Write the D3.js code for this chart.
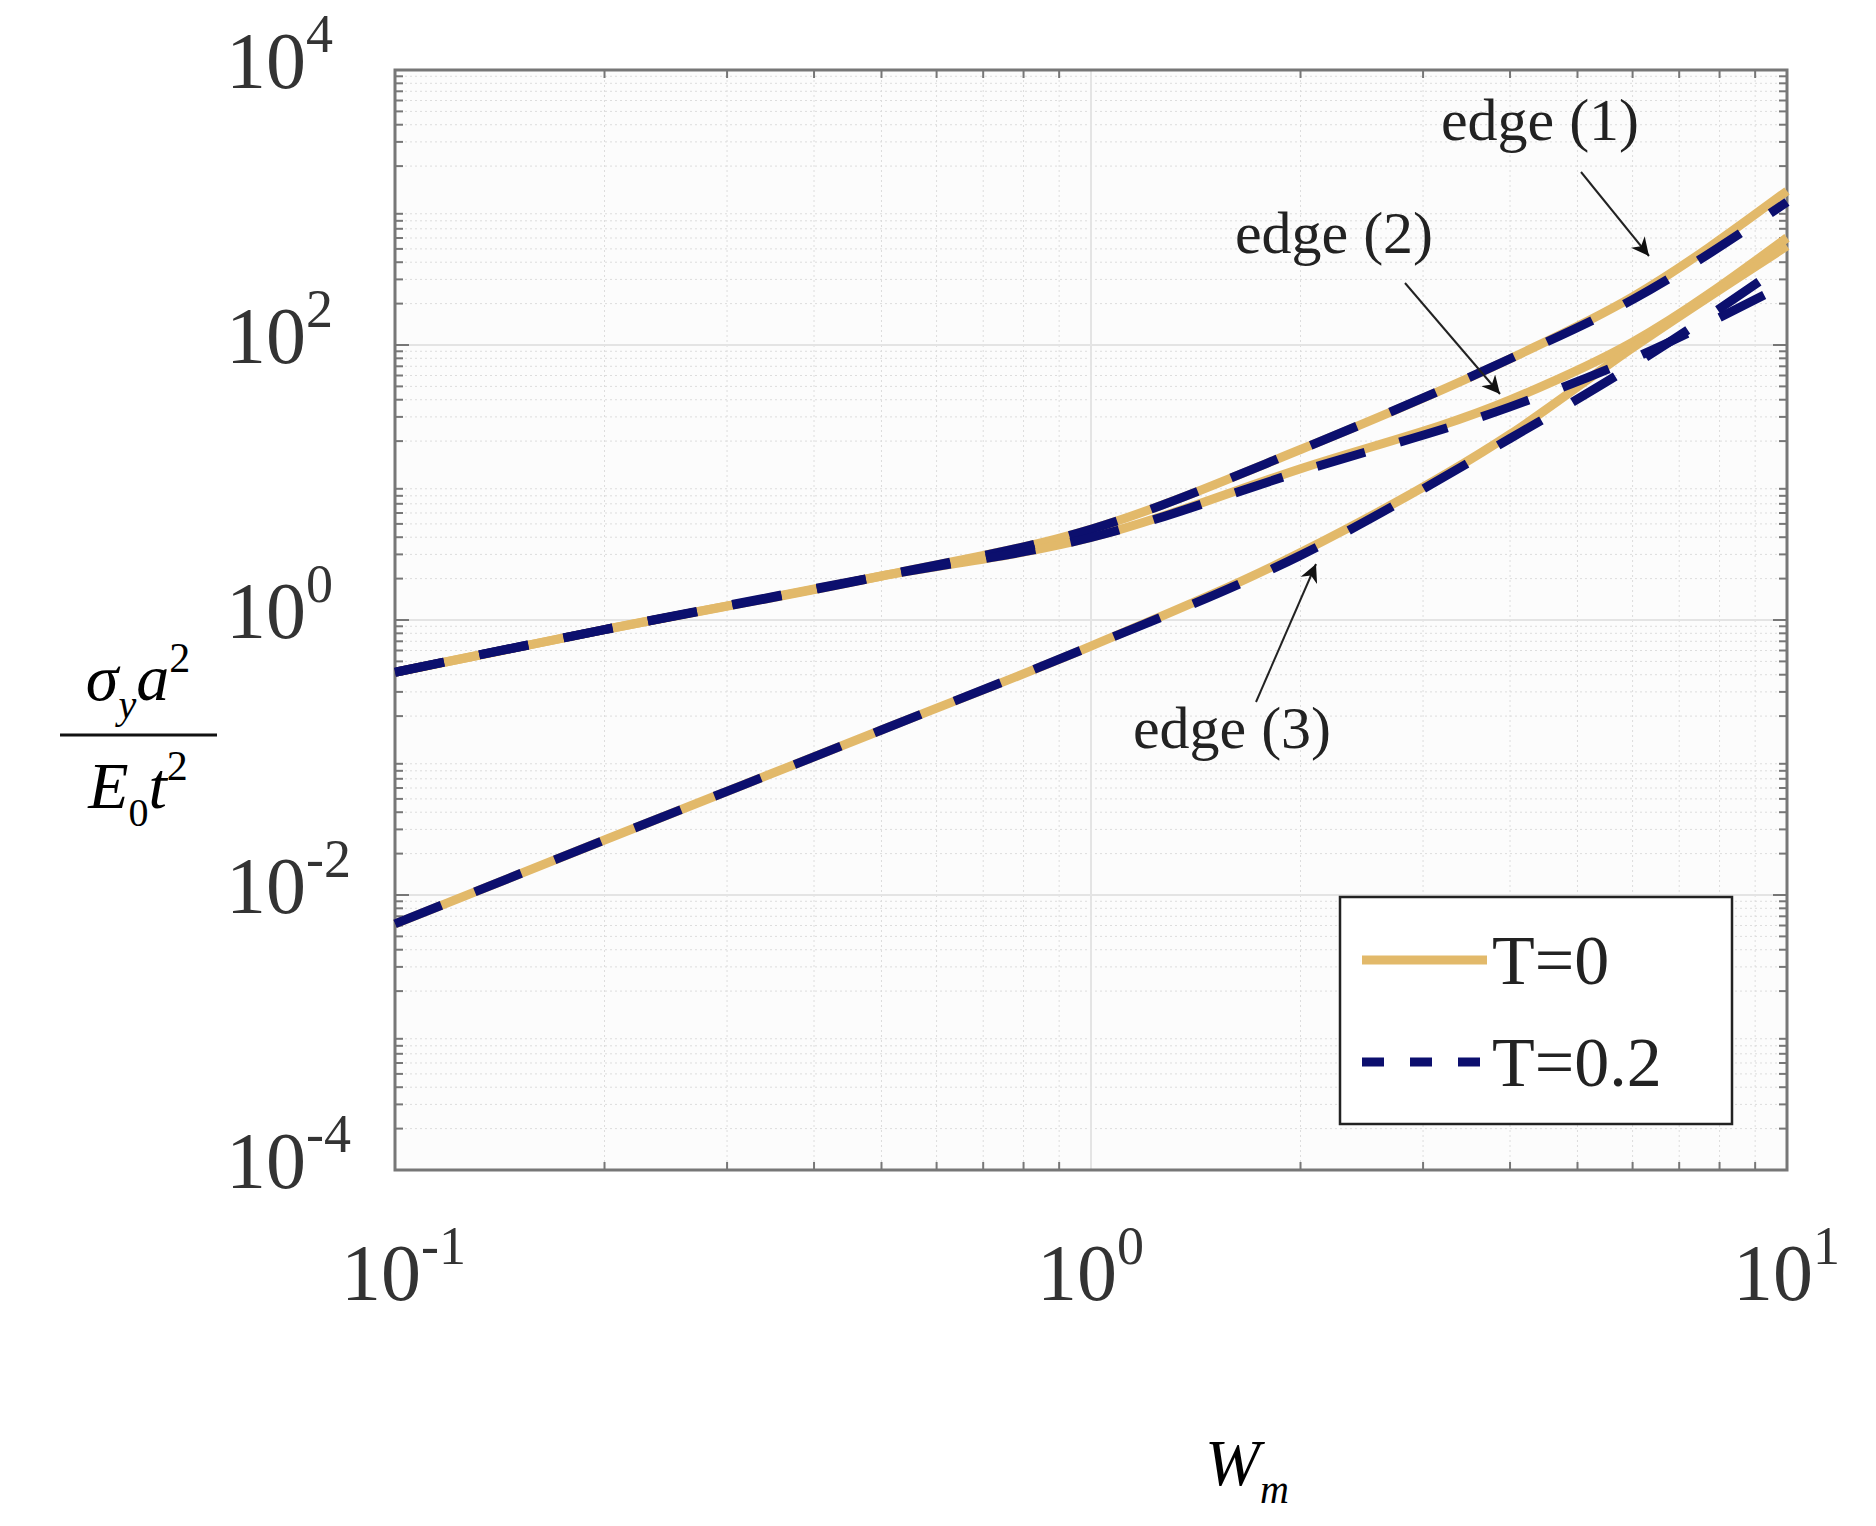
<!DOCTYPE html>
<html><head><meta charset="utf-8">
<script src="https://cdn.jsdelivr.net/npm/d3@7"></script>
<style>body{margin:0;background:#fff}text{font-family:"Liberation Serif",serif}</style>
</head><body><svg id="c" width="1876" height="1526"></svg>
<script>
// x values (W_m) and log10 of y values
var xs = [0.1, 0.2, 0.5, 1, 2, 4, 6, 10];
var edge1T0 = [-0.38, -0.07, 0.32, 0.66, 1.24, 1.9, 2.35, 3.12];
var edge2T0 = [-0.38, -0.07, 0.32, 0.6, 1.1, 1.6, 2.02, 2.78];
var edge3T0 = [-2.21, -1.6, -0.8, -0.19, 0.49, 1.35, 1.98, 2.72];
var edge1T2 = [-0.38, -0.07, 0.32, 0.66, 1.24, 1.9, 2.33, 3.04];
var edge2T2 = [-0.38, -0.07, 0.32, 0.6, 1.08, 1.55, 1.9, 2.45];
var edge3T2 = [-2.21, -1.6, -0.8, -0.19, 0.47, 1.32, 1.85, 2.6];
var yTicks = [-4, -2, 0, 2, 4];
var xTicks = [-1, 0, 1];

var svg = d3.select('#c');
var L = 395, R = 1787, T = 70, B = 1170;
var x = d3.scaleLog().domain([0.1, 10]).range([L, R]);
var y = d3.scaleLog().domain([1e-4, 1e4]).range([B, T]);

svg.append('rect').attr('x', L).attr('y', T).attr('width', R - L).attr('height', B - T).attr('fill', '#fcfcfc');

// minor grid
var minorX = [], minorY = [];
for (var e = -1; e < 1; e++) for (var m = 2; m < 10; m++) minorX.push(m * Math.pow(10, e));
for (var e2 = -4; e2 < 4; e2++) for (var m2 = 2; m2 < 10; m2++) minorY.push(m2 * Math.pow(10, e2));
var g = svg.append('g');
g.selectAll('.mx').data(minorX).enter().append('line')
  .attr('x1', x).attr('x2', x).attr('y1', T).attr('y2', B)
  .attr('stroke', '#ddd').attr('stroke-dasharray', '2,3');
g.selectAll('.my').data(minorY).enter().append('line')
  .attr('y1', y).attr('y2', y).attr('x1', L).attr('x2', R)
  .attr('stroke', '#ddd').attr('stroke-dasharray', '2,3');
g.selectAll('.Mx').data(xTicks).enter().append('line')
  .attr('x1', function (d) { return x(Math.pow(10, d)); }).attr('x2', function (d) { return x(Math.pow(10, d)); })
  .attr('y1', T).attr('y2', B).attr('stroke', '#e4e4e4').attr('stroke-width', 2);
g.selectAll('.My').data(yTicks).enter().append('line')
  .attr('y1', function (d) { return y(Math.pow(10, d)); }).attr('y2', function (d) { return y(Math.pow(10, d)); })
  .attr('x1', L).attr('x2', R).attr('stroke', '#e4e4e4').attr('stroke-width', 2);

// ticks inside
minorY.concat(yTicks.map(function (d) { return Math.pow(10, d); })).forEach(function (v) {
  var len = minorY.indexOf(v) < 0 ? 14 : 8;
  svg.append('line').attr('x1', L).attr('x2', L + len).attr('y1', y(v)).attr('y2', y(v)).attr('stroke', '#777').attr('stroke-width', 2);
  svg.append('line').attr('x1', R).attr('x2', R - len).attr('y1', y(v)).attr('y2', y(v)).attr('stroke', '#777').attr('stroke-width', 2);
});
minorX.forEach(function (v) {
  svg.append('line').attr('x1', x(v)).attr('x2', x(v)).attr('y1', B).attr('y2', B - 8).attr('stroke', '#777').attr('stroke-width', 2);
  svg.append('line').attr('x1', x(v)).attr('x2', x(v)).attr('y1', T).attr('y2', T + 8).attr('stroke', '#777').attr('stroke-width', 2);
});
svg.append('rect').attr('x', L).attr('y', T).attr('width', R - L).attr('height', B - T)
  .attr('fill', 'none').attr('stroke', '#777').attr('stroke-width', 3);

// tick labels
function pow(sel, base, ex) {
  sel.append('tspan').text(base);
  sel.append('tspan').attr('dy', -36).attr('font-size', 54).text(ex);
}
yTicks.forEach(function (d) {
  var t = svg.append('text').attr('x', 226).attr('y', y(Math.pow(10, d)) + 18).attr('font-size', 80).attr('fill', '#333');
  pow(t, '10', d);
});
xTicks.forEach(function (d) {
  var t = svg.append('text').attr('x', x(Math.pow(10, d)) - 54).attr('y', 1300).attr('font-size', 80).attr('fill', '#333');
  pow(t, '10', d);
});

// curves
var line = d3.line().x(function (d) { return x(d[0]); }).y(function (d) { return y(Math.pow(10, d[1])); }).curve(d3.curveMonotoneX);
function pts(arr) { return xs.map(function (v, i) { return [v, arr[i]]; }); }
[edge1T0, edge2T0, edge3T0].forEach(function (s) {
  svg.append('path').attr('d', line(pts(s))).attr('fill', 'none').attr('stroke', '#e2b96a').attr('stroke-width', 9);
});
[edge1T2, edge2T2, edge3T2].forEach(function (s) {
  svg.append('path').attr('d', line(pts(s))).attr('fill', 'none').attr('stroke', '#0c0f6e')
    .attr('stroke-width', 9).attr('stroke-dasharray', '50,36');
});

// annotations
svg.append('defs').append('marker').attr('id', 'ar').attr('viewBox', '0 0 10 10').attr('refX', 10).attr('refY', 5)
  .attr('markerWidth', 9).attr('markerHeight', 9).attr('orient', 'auto')
  .append('path').attr('d', 'M0,0 L10,5 L0,10 L3,5 Z').attr('fill', '#111');
var notes = [
  { t: 'edge (1)', tx: 1540, ty: 140, x1: 1581, y1: 172, x2: 1649, y2: 256 },
  { t: 'edge (2)', tx: 1334, ty: 253, x1: 1405, y1: 283, x2: 1500, y2: 394 },
  { t: 'edge (3)', tx: 1232, ty: 748, x1: 1256, y1: 702, x2: 1316, y2: 564 }
];
notes.forEach(function (n) {
  svg.append('text').attr('x', n.tx).attr('y', n.ty).attr('text-anchor', 'middle').attr('font-size', 60).attr('fill', '#222').text(n.t);
  svg.append('line').attr('x1', n.x1).attr('y1', n.y1).attr('x2', n.x2).attr('y2', n.y2)
    .attr('stroke', '#222').attr('stroke-width', 2).attr('marker-end', 'url(#ar)');
});

// legend
svg.append('rect').attr('x', 1340).attr('y', 897).attr('width', 392).attr('height', 227).attr('fill', '#fff').attr('stroke', '#222').attr('stroke-width', 2.5);
svg.append('line').attr('x1', 1362).attr('x2', 1487).attr('y1', 960).attr('y2', 960).attr('stroke', '#e2b96a').attr('stroke-width', 9);
svg.append('line').attr('x1', 1362).attr('x2', 1487).attr('y1', 1062).attr('y2', 1062).attr('stroke', '#0c0f6e').attr('stroke-width', 9).attr('stroke-dasharray', '22,26');
svg.append('text').attr('x', 1492).attr('y', 984).attr('font-size', 70).attr('fill', '#222').text('T=0');
svg.append('text').attr('x', 1492).attr('y', 1086).attr('font-size', 70).attr('fill', '#222').text('T=0.2');

// axis labels
var yl = svg.append('g').attr('font-style', 'italic').attr('font-size', 66);
var num = yl.append('text').attr('x', 138).attr('y', 700).attr('text-anchor', 'middle');
num.append('tspan').text('σ');
num.append('tspan').attr('dy', 18).attr('font-size', 40).text('y');
num.append('tspan').attr('dy', -18).text('a');
num.append('tspan').attr('dy', -28).attr('font-size', 42).attr('font-style', 'normal').text('2');
svg.append('line').attr('x1', 60).attr('x2', 217).attr('y1', 735).attr('y2', 735).attr('stroke', '#111').attr('stroke-width', 3);
var den = yl.append('text').attr('x', 138).attr('y', 808).attr('text-anchor', 'middle');
den.append('tspan').text('E');
den.append('tspan').attr('dy', 18).attr('font-size', 40).attr('font-style', 'normal').text('0');
den.append('tspan').attr('dy', -18).text('t');
den.append('tspan').attr('dy', -28).attr('font-size', 42).attr('font-style', 'normal').text('2');
var xl = svg.append('text').attr('x', 1205).attr('y', 1485).attr('font-style', 'italic').attr('font-size', 66);
xl.append('tspan').text('W');
xl.append('tspan').attr('dy', 18).attr('font-size', 40).text('m');
</script></body></html>
